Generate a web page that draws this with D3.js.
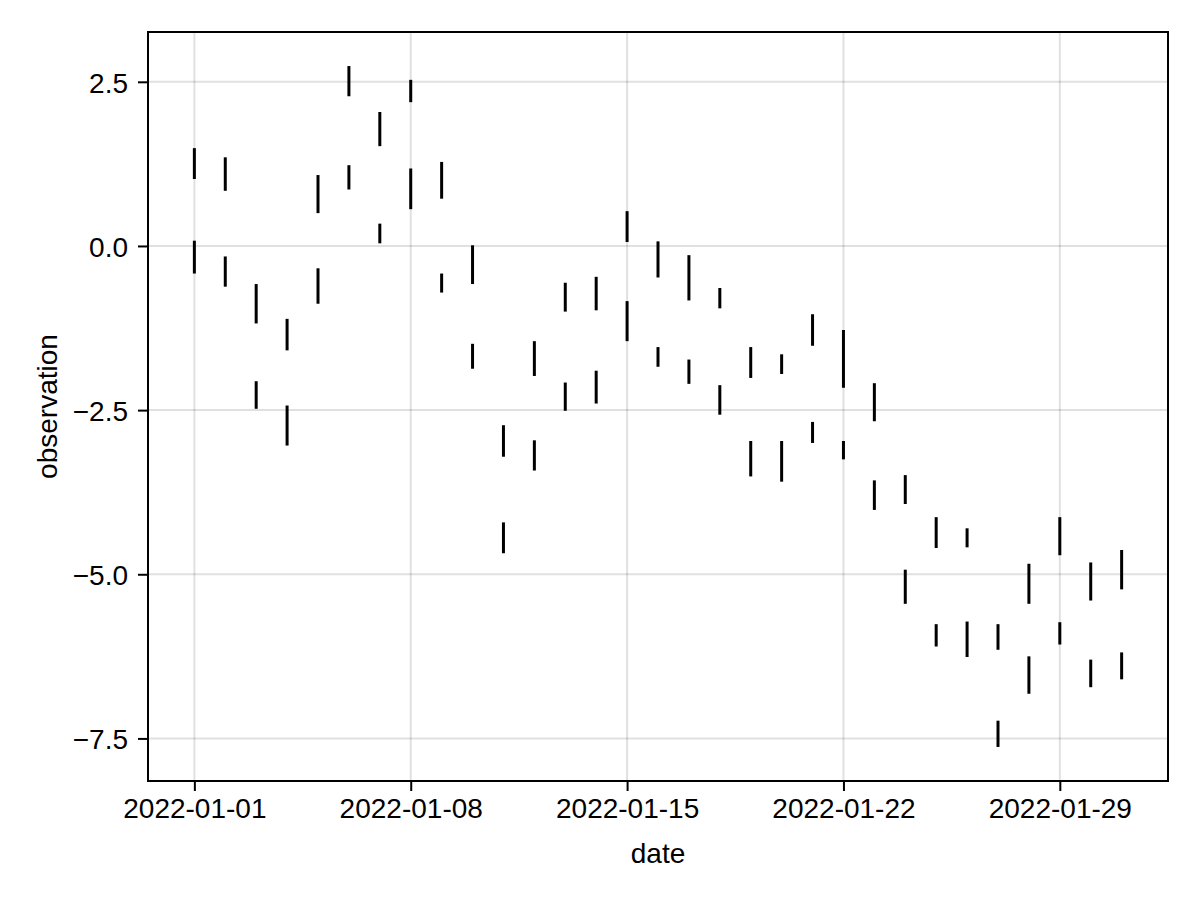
<!DOCTYPE html>
<html>
<head>
<meta charset="utf-8">
<script src="https://cdn.jsdelivr.net/npm/d3@7"></script>
<style>
  html, body { margin: 0; padding: 0; background: #fff; }
  svg { display: block; }
  text { font-family: "Liberation Sans", Arial, Helvetica, sans-serif; fill: #000; }
</style>
</head>
<body>
<svg id="chart" width="1200" height="900"></svg>
<script>
// Day of month (January 2022)
const days = [1,2,3,4,5,6,7,8,9,10,11,12,13,14,15,16,17,18,19,20,21,22,23,24,25,26,27,28,29,30,31];
// First (upper) range bar per day
const highA = [1.49,1.35,-0.58,-1.11,1.08,2.74,2.04,2.53,1.28,0.01,-2.73,-1.45,-0.56,-0.47,0.53,0.07,-0.14,-0.64,-1.54,-1.65,-1.04,-1.28,-2.09,-3.49,-4.13,-4.30,-5.76,-4.84,-4.13,-4.82,-4.63];
const lowA  = [1.02,0.84,-1.18,-1.59,0.50,2.28,1.52,2.19,0.72,-0.58,-3.21,-1.98,-1.00,-0.98,0.06,-0.48,-0.83,-0.95,-2.01,-1.95,-1.52,-2.16,-2.67,-3.93,-4.60,-4.59,-6.15,-5.45,-4.71,-5.40,-5.23];
// Second (lower) range bar per day
const highB = [0.08,-0.16,-2.06,-2.43,-0.34,1.23,0.34,1.18,-0.42,-1.49,-4.21,-2.96,-2.08,-1.90,-0.84,-1.54,-1.73,-2.12,-2.97,-2.97,-2.68,-2.97,-3.57,-4.93,-5.76,-5.72,-7.23,-6.25,-5.73,-6.30,-6.19];
const lowB  = [-0.42,-0.62,-2.48,-3.04,-0.88,0.86,0.04,0.56,-0.71,-1.87,-4.68,-3.42,-2.51,-2.40,-1.45,-1.84,-2.10,-2.57,-3.51,-3.59,-3.00,-3.25,-4.02,-5.45,-6.10,-6.26,-7.63,-6.82,-6.07,-6.72,-6.60];
// Tick labels
const xTickDays = [1, 8, 15, 22, 29];
const yTicks = [-7.5, -5.0, -2.5, 0.0, 2.5];
const xLabel = "date";
const yLabel = "observation";

const toDate = d => new Date(Date.UTC(2022, 0, d));
const bars = [];
days.forEach((d, i) => {
  bars.push({ date: toDate(d), lo: lowA[i], hi: highA[i] });
  bars.push({ date: toDate(d), lo: lowB[i], hi: highB[i] });
});

const pL = 148, pR = 1168, pT = 32, pB = 781;
const svg = d3.select("#chart");

// x domain: 5% padding of data span
const xMin = toDate(d3.min(days)), xMax = toDate(d3.max(days));
const xPad = (xMax - xMin) * 0.05;
const x = d3.scaleUtc()
  .domain([new Date(+xMin - xPad), new Date(+xMax + xPad)])
  .range([pL, pR]);

const yMinV = d3.min(bars, b => b.lo), yMaxV = d3.max(bars, b => b.hi);
const yPad = (yMaxV - yMinV) * 0.05;
const y = d3.scaleLinear()
  .domain([yMinV - yPad, yMaxV + yPad])
  .range([pB, pT]);

// Grid
const grid = svg.append("g");
grid.selectAll("line.gx").data(xTickDays).join("line")
  .attr("x1", d => x(toDate(d))).attr("x2", d => x(toDate(d)))
  .attr("y1", pT).attr("y2", pB)
  .attr("stroke", "#000").attr("stroke-opacity", 0.12).attr("stroke-width", 2);
grid.selectAll("line.gy").data(yTicks).join("line")
  .attr("y1", d => y(d)).attr("y2", d => y(d))
  .attr("x1", pL).attr("x2", pR)
  .attr("stroke", "#000").attr("stroke-opacity", 0.12).attr("stroke-width", 2);

// Range bars
svg.append("g").selectAll("line").data(bars).join("line")
  .attr("x1", d => x(d.date)).attr("x2", d => x(d.date))
  .attr("y1", d => y(d.hi)).attr("y2", d => y(d.lo))
  .attr("stroke", "#000").attr("stroke-width", 3);

// Axes
const fmtY = v => d3.format(".1f")(v).replace("-", "\u2212");
const xAxis = d3.axisBottom(x)
  .tickValues(xTickDays.map(toDate))
  .tickFormat(d3.utcFormat("%Y-%m-%d"))
  .tickSize(10);
const yAxis = d3.axisLeft(y)
  .tickValues(yTicks)
  .tickFormat(fmtY)
  .tickSize(10);

const gx = svg.append("g").attr("transform", `translate(0,${pB})`).call(xAxis);
const gy = svg.append("g").attr("transform", `translate(${pL},0)`).call(yAxis);
[gx, gy].forEach(g => {
  g.select(".domain").remove();
  g.selectAll(".tick line").attr("stroke", "#000").attr("stroke-width", 2);
  g.selectAll(".tick text").attr("font-size", 28).attr("fill", "#000")
    .attr("font-family", '"Liberation Sans", Arial, sans-serif');
});
gx.selectAll(".tick text").attr("dy", null).attr("y", 37);
gy.selectAll(".tick text").attr("dy", "0.37em").attr("x", -20);

// Frame
svg.append("rect")
  .attr("x", pL).attr("y", pT)
  .attr("width", pR - pL).attr("height", pB - pT)
  .attr("fill", "none").attr("stroke", "#000").attr("stroke-width", 2);

// Axis labels
svg.append("text").attr("x", (pL + pR) / 2).attr("y", 863)
  .attr("text-anchor", "middle").attr("font-size", 28).text(xLabel);
svg.append("text")
  .attr("transform", `translate(56.5,${(pT + pB) / 2}) rotate(-90)`)
  .attr("text-anchor", "middle").attr("font-size", 28).text(yLabel);
</script>
</body>
</html>
